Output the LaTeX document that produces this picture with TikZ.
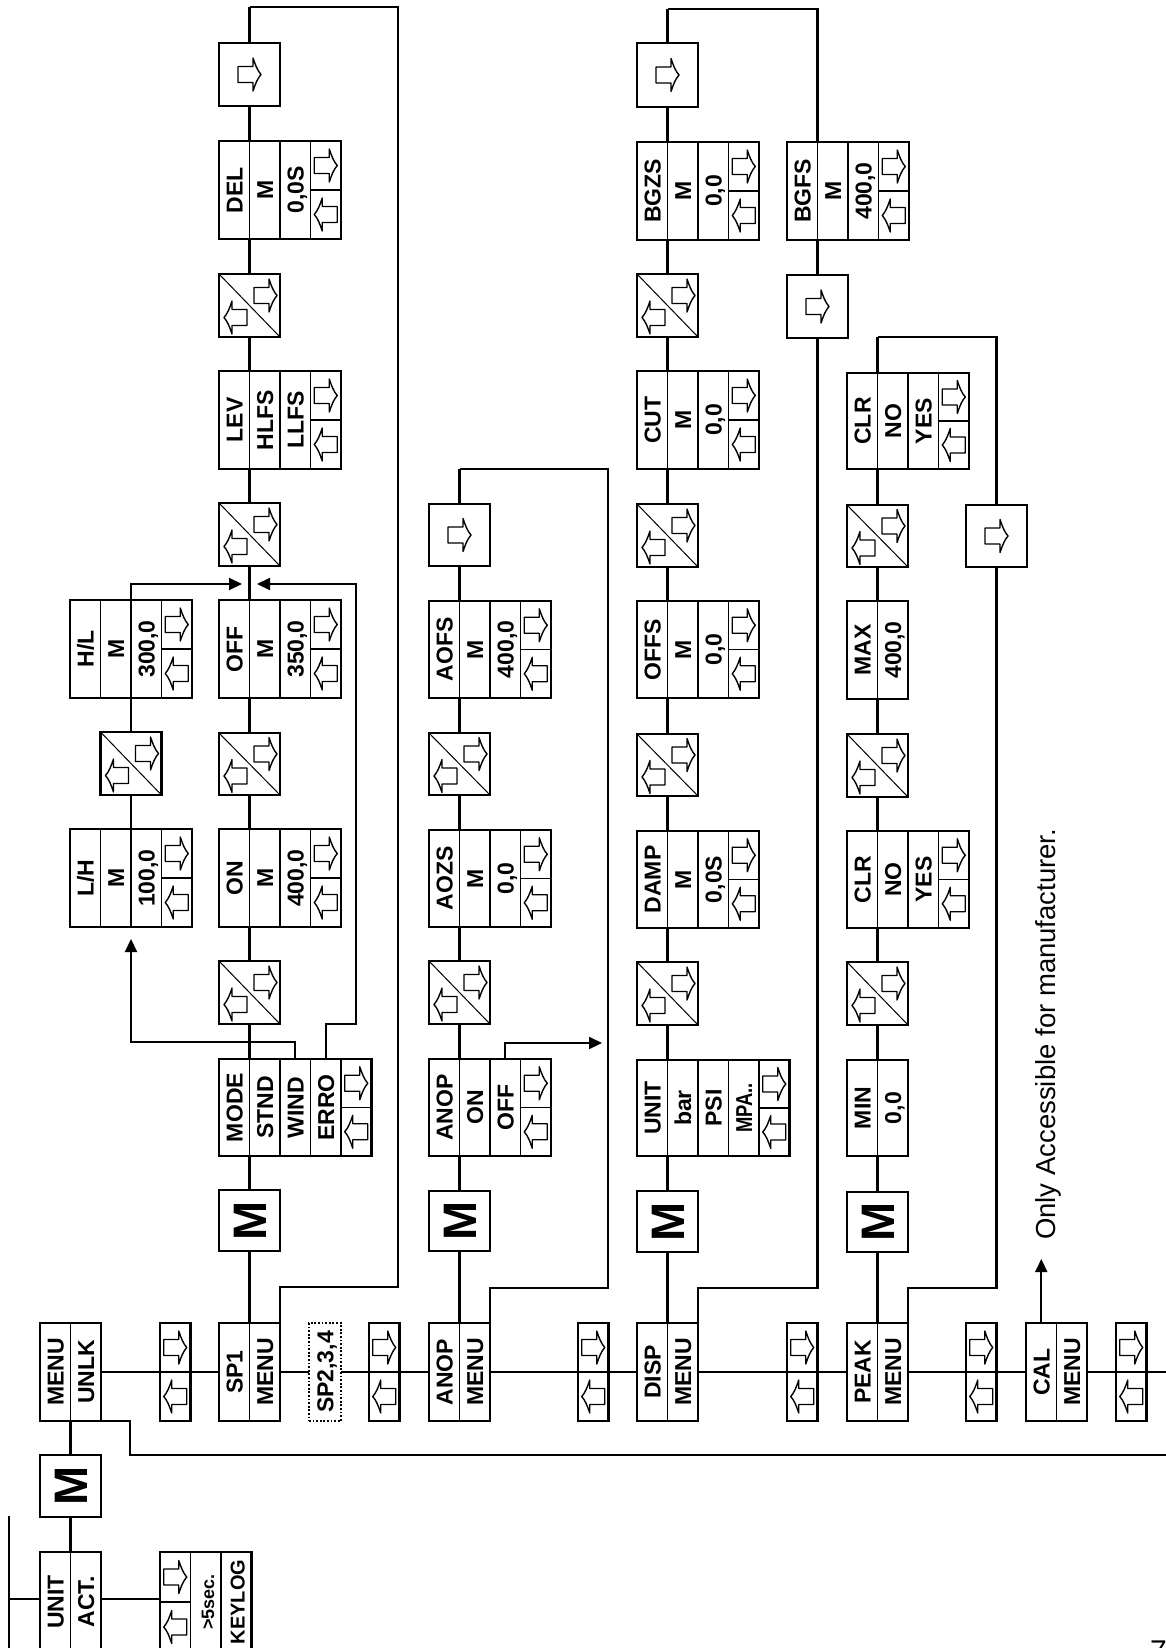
\documentclass[tikz,border=0pt]{standalone}
\usepackage{fontspec}
\setmainfont{Liberation Sans}
\usetikzlibrary{arrows.meta}
\pgfdeclarelayer{bg}
\pgfsetlayers{bg,main}
\def\atsym{@}
\protected\def\mpa{\scalebox{0.8}[1]{MPA..}}
\protected\def\fsec{\fontsize{18}{18}\selectfont >5sec.}
\protected\def\klog{\fontsize{20}{20}\selectfont KEYLOG}
\tikzset{
 bx/.style={draw, line width=2.5pt, fill=white, inner sep=0pt, outer sep=0pt, rectangle},
 dv/.style={line width=1.8pt},
 dg/.style={line width=1pt},
 ln/.style={line width=2.1pt},
 tip/.style={ln, -{Triangle[length=13pt,width=12pt]}},
 arw/.style={line width=1.4pt, fill=white, line join=round},
 lb/.style={rotate=90, inner sep=0pt, font=\fontsize{23}{23}\selectfont\bfseries, text height=16.5pt, text depth=0pt},
 bigm/.style={rotate=90, inner sep=0pt, font=\fontsize{47}{47}\selectfont\bfseries, text height=33.5pt, text depth=0pt},
 pics/aR/.style={code={\draw[arw] (-11.5,-8) -- (3.5,-8) -- (3.5,-16.5) .. controls (6,-9) and (8,-4) .. (11.5,0) .. controls (8,4) and (6,9) .. (3.5,16.5) -- (3.5,8) -- (-11.5,8) -- cycle;}},
 pics/aL/.style={code={\draw[arw] (11.5,-8) -- (-3.5,-8) -- (-3.5,-16.5) .. controls (-6,-9) and (-8,-4) .. (-11.5,0) .. controls (-8,4) and (-6,9) .. (-3.5,16.5) -- (-3.5,8) -- (11.5,8) -- cycle;}},
}
% cell box: name, left x, top y, bottom y, list of cells (@ = arrow cell)
\newcommand\CellBx[5]{%
  \foreach \t [count=\i] in {#5} {\xdef\ncell{\i}}%
  \node[bx, minimum width={\ncell*30.5pt}, minimum height={(#4-#3)*1pt}, anchor=north west] (#1) at (#2,#3) {};
  \foreach \t [count=\i] in {#5} {%
    \pgfmathsetmacro\xa{#2+(\i-1)*30.5}%
    \pgfmathsetmacro\xc{#2+(\i-0.5)*30.5}%
    \pgfmathsetmacro\xb{#2+\i*30.5}%
    \pgfmathsetmacro\ym{(#3+#4)/2}%
    \ifnum\i>1 \draw[dv] (\xa,#3) -- (\xa,#4);\fi
    \edef\tmp{\t}%
    \ifx\tmp\atsym
      \draw[dv] (\xa,\ym) -- (\xb,\ym);
      \pic at (\xc,{(#3+\ym)/2}) {aR};
      \pic at (\xc,{(\ym+#4)/2}) {aL};
    \else
      \node[lb] at (\xc,\ym) {\t};
    \fi
  }%
}
\newcommand\DiagBx[4]{%
  \node[bx, minimum width=61pt, minimum height={(#4-#3)*1pt}, anchor=north west] (#1) at (#2,#3) {};
  \draw[dg] (#1.north west) -- (#1.south east);
  \pic at ({#2+30.5+16},{(#3+#4)/2-10}) {aR};
  \pic at ({#2+30.5-14},{(#3+#4)/2+12}) {aL};
}
\newcommand\SqBx[4]{%
  \node[bx, minimum width=61pt, minimum height={(#4-#3)*1pt}, anchor=north west] (#1) at (#2,#3) {};
  \pic at (#1.center) {aR};
}
\newcommand\MBx[4]{%
  \node[bx, minimum width=61pt, minimum height={(#4-#3)*1pt}, anchor=north west] (#1) at (#2,#3) {};
  \node[bigm] at (#1.center) {M};
}
\begin{document}
\begin{tikzpicture}[x=1pt,y=-1pt]
\useasboundingbox (0,0) rectangle (1165,1648);
\clip (0,0) rectangle (1165,1648);
% ---- left column
\CellBx{mu}{40}{1323}{1421}{MENU,UNLK}
\MBx{m0}{40}{1455}{1517}
\CellBx{ua}{40}{1552}{1652}{UNIT,ACT.}
\CellBx{kl}{160}{1552}{1652}{@,\fsec,\klog}
% ---- main menu line
\CellBx{a1}{160}{1323}{1421}{@}
\CellBx{sp1}{219}{1323}{1421}{SP1,MENU}
\node[draw, line width=1.8pt, dash pattern=on 1.8pt off 1.8pt, fill=white, inner sep=0pt, outer sep=0pt, minimum width=32pt, minimum height=98pt, anchor=north west] (sp2) at (309,1323) {};
\node[lb] at (sp2.center) {SP2,3,4};
\CellBx{a2}{369}{1323}{1421}{@}
\CellBx{an}{429}{1323}{1421}{ANOP,MENU}
\CellBx{a3}{578}{1323}{1421}{@}
\CellBx{dp}{637}{1323}{1421}{DISP,MENU}
\CellBx{a4}{787}{1323}{1421}{@}
\CellBx{pk}{847}{1323}{1421}{PEAK,MENU}
\CellBx{a5}{966}{1323}{1421}{@}
\CellBx{cal}{1026}{1323}{1421}{CAL,MENU}
\CellBx{a6}{1116}{1323}{1421}{@}
% ---- column A (SP1)
\SqBx{sqA}{219}{43}{106}
\CellBx{del}{219}{141}{239}{DEL,M,{0,0S},@}
\DiagBx{dA1}{219}{274}{337}
\CellBx{lev}{219}{371}{469}{LEV,HLFS,LLFS,@}
\DiagBx{dA2}{219}{503}{566}
\CellBx{off}{219}{600}{698}{OFF,M,{350,0},@}
\DiagBx{dA3}{219}{733}{795}
\CellBx{on}{219}{829}{927}{ON,M,{400,0},@}
\DiagBx{dA4}{219}{961}{1024}
\CellBx{mode}{219}{1059}{1156}{MODE,STND,WIND,ERRO,@}
\MBx{mA}{219}{1190}{1251}
% H/L branch
\CellBx{hl}{70}{600}{698}{H/L,M,{300,0},@}
\DiagBx{dH}{100.5}{732}{795}
\CellBx{lh}{70}{829}{927}{L/H,M,{100,0},@}
% ---- column B (ANOP)
\SqBx{sqB}{429}{504}{566}
\CellBx{aofs}{429}{601}{698}{AOFS,M,{400,0},@}
\DiagBx{dB1}{429}{733}{795}
\CellBx{aozs}{429}{830}{927}{AOZS,M,{0,0},@}
\DiagBx{dB2}{429}{961}{1024}
\CellBx{anop}{429}{1059}{1156}{ANOP,ON,OFF,@}
\MBx{mB}{429}{1191}{1251}
% ---- column C (DISP)
\SqBx{sqC}{637}{43}{107}
\CellBx{bgzs}{637}{142}{240}{BGZS,M,{0,0},@}
\DiagBx{dC1}{637}{274}{337}
\CellBx{cut}{637}{371}{469}{CUT,M,{0,0},@}
\DiagBx{dC2}{637}{504}{567}
\CellBx{offs}{637}{601}{698}{OFFS,M,{0,0},@}
\DiagBx{dC3}{637}{734}{796}
\CellBx{damp}{637}{831}{928}{DAMP,M,{0,0S},@}
\DiagBx{dC4}{637}{962}{1025}
\CellBx{unit}{637}{1060}{1156}{UNIT,bar,PSI,\mpa,@}
\MBx{mC}{637}{1191}{1252}
\CellBx{bgfs}{787}{142}{240}{BGFS,M,{400,0},@}
\SqBx{sqC2}{787}{275}{338}
% ---- column D (PEAK)
\CellBx{clrA}{847}{373}{469}{CLR,NO,YES,@}
\DiagBx{dD1}{847}{505}{567}
\CellBx{max}{847}{601}{699}{MAX,{400,0}}
\DiagBx{dD2}{847}{734}{797}
\CellBx{clrB}{847}{831}{928}{CLR,NO,YES,@}
\DiagBx{dD3}{847}{962}{1025}
\CellBx{min}{847}{1060}{1156}{MIN,{0,0}}
\MBx{mD}{847}{1192}{1252}
\SqBx{sqD}{966}{505}{567}
% ---- texts
\node[rotate=90, anchor=base west, inner sep=0pt, font=\fontsize{27.5}{27.5}\selectfont] (note) at (1055,1240) {Only Accessible for manufacturer.};
\node[anchor=north west, inner sep=0pt, font=\fontsize{30}{30}\selectfont] (pg) at (1150,1641) {7};
% ---- connectors
\begin{pgfonlayer}{bg}
\fill[white] (0,0) rectangle (1165,1648);
\coordinate (y0) at (0,1599);
\draw[ln] (mu.east) -- (1170,1372);
\draw[ln] (mu.south east) -| (130,1455) -- (1170,1455);
\draw[ln] (mu.south) -- (m0.north);
\draw[ln] (m0.south) -- (ua.north);
\draw[ln] (9,1516) -- (9,1652);
\draw[ln] (9,1599) -- (ua.west |- y0);
\draw[ln] (ua.east |- y0) -- (kl.west |- y0);
% column A
\coordinate (tA) at (249.5,7);
\draw[ln] (tA) -- (sp1.north);
\draw[ln] (tA) -- (398,7) -- (398,1287) -| (sp1.north east);
\coordinate (sH) at (131,0);
\draw[ln] (lh.north -| sH) -- (hl.south -| sH);
\draw[tip] (hl.north -| sH) |- (242,584);
\coordinate (wd) at (295.25,0);
\draw[tip] (mode.north -| wd) |- (131,1042) -- (131,939);
\coordinate (er) at (325.75,0);
\draw[tip] (mode.north -| er) |- (356,1024) |- (257,584);
% column B
\coordinate (tB) at (459.5,469);
\draw[ln] (tB) -- (an.north);
\draw[ln] (tB) -- (608,469) -- (608,1288) -| (an.north east);
\coordinate (of) at (505.25,0);
\draw[tip] (anop.north -| of) |- (602,1043);
% column C
\coordinate (tC) at (667.5,9);
\draw[ln] (tC) -- (dp.north);
\draw[ln] (tC) -- (817.5,9) -- (817.5,1288) -| (dp.north east);
% column D
\coordinate (tD) at (877.5,337);
\draw[ln] (tD) -- (pk.north);
\draw[ln] (tD) -- (996.5,337) -- (996.5,1288) -| (pk.north east);
% CAL
\coordinate (cc) at (1041.25,0);
\draw[tip] (cal.north -| cc) -- (1041.25,1259);
\end{pgfonlayer}
\end{tikzpicture}
\end{document}
